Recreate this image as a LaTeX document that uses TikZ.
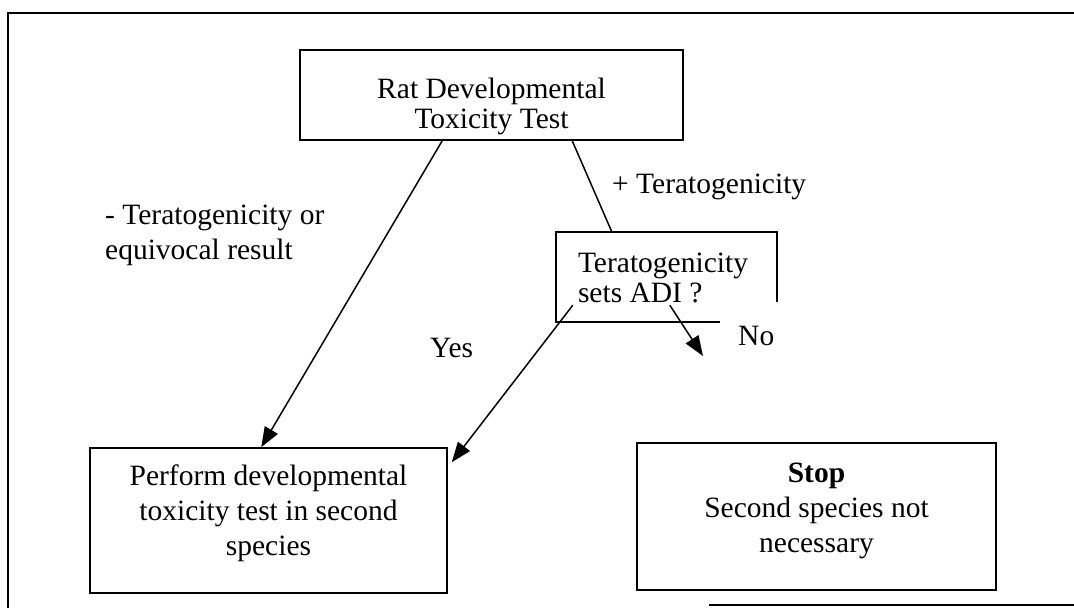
\documentclass[tikz,border=0pt]{standalone}
\usepackage{fontspec}
\setmainfont{Liberation Serif}
\usetikzlibrary{calc,arrows.meta}
\begin{document}
\begin{tikzpicture}[x=1pt,y=-1pt,
  boxnode/.style={draw, line width=1.6pt, inner sep=0pt},
  txt/.style={inner sep=0pt, font=\fontsize{29.5pt}{30pt}\selectfont},
  txtwide/.style={inner sep=0pt, font=\fontsize{29.5pt}{35pt}\selectfont},
  conn/.style={line width=1.5pt},
  arr/.style={line width=1.5pt, -{Triangle[length=20pt,width=15pt]}}
]
\useasboundingbox (0,0) rectangle (1074,608);
% outer frame
\coordinate (ftr) at (1074,13);
\coordinate (ftl) at (8,13);
\coordinate (fbl) at (8,608);
\coordinate (fbr1) at (709,605);
\coordinate (fbr2) at (1074,605);
\draw[line width=1.6pt] (ftr) -- (ftl) -- (fbl);
\draw[line width=1.6pt] (fbr1) -- (fbr2);

% boxes
\node[boxnode, minimum width=383pt, minimum height=90pt] (top) at (491.5,95) {};
\node[txt, align=center] (toptxt) at ($(top.center)+(0,11)$) {Rat Developmental\\Toxicity Test};

\node[boxnode, minimum width=357pt, minimum height=145pt] (left) at (268.5,520.5) {};
\node[txtwide, align=center] (lefttxt) at ($(left.center)+(0,-7.5)$) {Perform developmental\\toxicity test in second\\species};

\node[boxnode, minimum width=359pt, minimum height=147pt] (stop) at (816.5,516.5) {};
\node[txtwide, align=center] (stoptxt) at ($(stop.center)+(0,-5.5)$) {\textbf{Stop}\\Second species not\\necessary};

\node[inner sep=0pt, minimum width=221pt, minimum height=90pt] (tera) at (666.5,277) {};
\draw[line width=1.6pt] ($(tera.south east)+(0,-20)$) -- (tera.north east) -- (tera.north west) -- (tera.south west) -- ($(tera.south west)+(164,0)$);
\node[txt, align=left, anchor=west] (teratxt) at ($(tera.west)+(22,1)$) {Teratogenicity\\sets ADI ?};

% labels
\node[txtwide, align=left, anchor=base west] (minus) at (105,224) {- Teratogenicity or};
\node[txtwide, anchor=base west] (minus2) at (105,259) {equivocal result};
\node[txt, anchor=base west] (plus) at (612,193) {+ Teratogenicity};
\node[txt, anchor=base west] (yes) at (430,357) {Yes};
\node[txt, anchor=base west] (no) at (738,345) {No};

% connectors
\draw[arr] ($(top.south west)+(143,0)$) -- ($(left.north west)+(172,0)$);
\draw[conn] ($(top.south west)+(273,0)$) -- ($(tera.north west)+(56,0)$);
\draw[arr] ($(tera.south west)+(17,-17)$) -- ($(left.north east)+(4,15)$);
\coordinate (noend) at (703,356);
\draw[arr] ($(tera.south west)+(114,-17)$) -- (noend);
\end{tikzpicture}
\end{document}
